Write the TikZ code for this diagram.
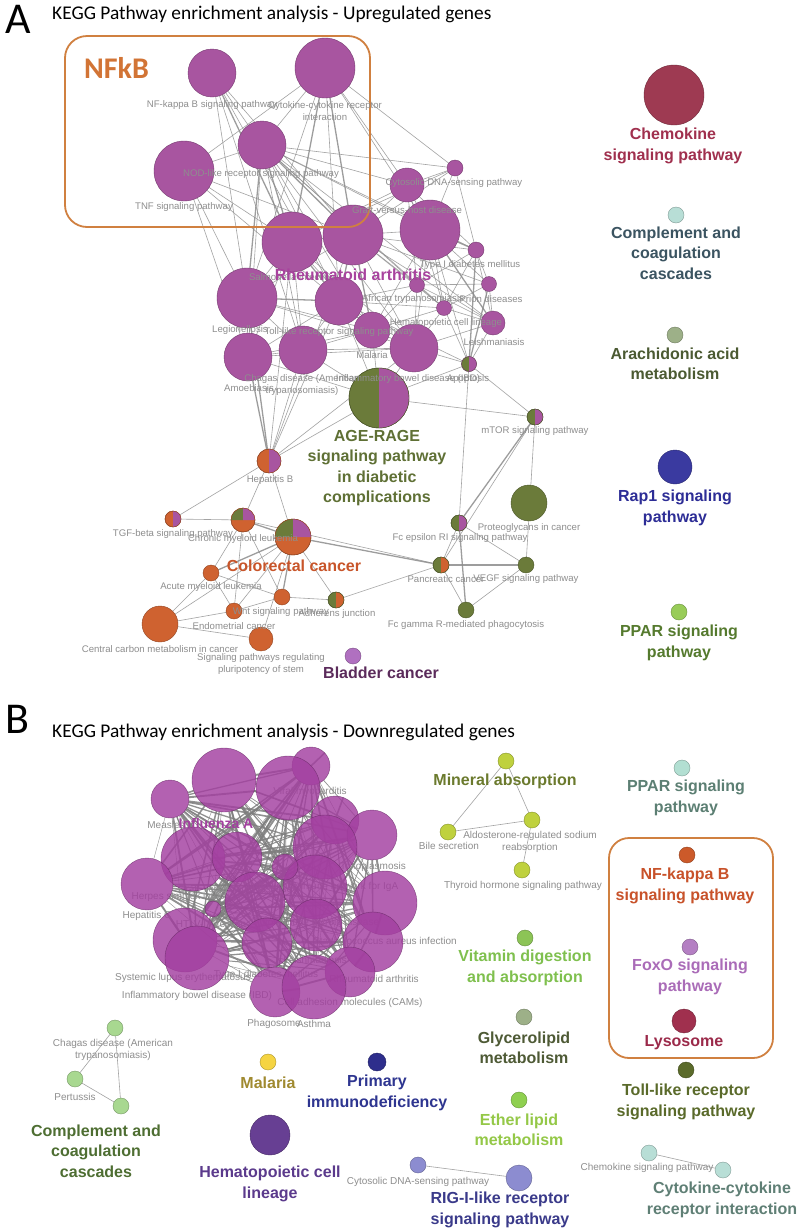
\documentclass[tikz,border=0pt]{standalone}
\usepackage{fontspec}
\setmainfont{Liberation Sans}
\newfontfamily\calfont{Carlito}
\pgfdeclarelayer{bg}
\pgfdeclarelayer{edges}
\pgfdeclarelayer{labels}
\pgfdeclarelayer{toplayer}
\pgfsetlayers{bg,edges,labels,main,toplayer}
\definecolor{apur}{HTML}{A855A0}
\definecolor{agrn}{HTML}{6B7B3A}
\definecolor{aorg}{HTML}{CF6230}
\definecolor{egray}{HTML}{8C8C8C}
\definecolor{lgray}{HTML}{8E8E8E}
\definecolor{boxorg}{HTML}{D08040}
\definecolor{nfkbc}{HTML}{D27435}
\definecolor{rat}{HTML}{A8439E}
\definecolor{aget}{HTML}{5F7035}
\definecolor{crct}{HTML}{C8552A}
\definecolor{bladc}{HTML}{B070C0}
\definecolor{bladt}{HTML}{5B2B5B}
\definecolor{chemoc}{HTML}{9E3A52}
\definecolor{chemot}{HTML}{A0304E}
\definecolor{tealc}{HTML}{B8DED6}
\definecolor{compat}{HTML}{3B5461}
\definecolor{sagec}{HTML}{9DB088}
\definecolor{aracht}{HTML}{4B5A32}
\definecolor{rapc}{HTML}{3A3AA0}
\definecolor{rapt}{HTML}{2D2D96}
\definecolor{pparac}{HTML}{98CC58}
\definecolor{pparat}{HTML}{557A2E}
\definecolor{bpur}{HTML}{A33FA0}
\definecolor{bedgec}{HTML}{7E7E7E}
\definecolor{limec}{HTML}{BFD13E}
\definecolor{minert}{HTML}{6B7A2D}
\definecolor{vitc}{HTML}{8CC456}
\definecolor{vitt}{HTML}{7FC04E}
\definecolor{glyt}{HTML}{4E5A35}
\definecolor{etherc}{HTML}{8FD050}
\definecolor{ethert}{HTML}{94C847}
\definecolor{ppbt}{HTML}{5C7F73}
\definecolor{ppbc}{HTML}{B2DFD2}
\definecolor{nfbc}{HTML}{CC5A2A}
\definecolor{nfbt}{HTML}{C8522A}
\definecolor{foxc}{HTML}{B47FC3}
\definecolor{foxt}{HTML}{AA6CB8}
\definecolor{lysc}{HTML}{A0304E}
\definecolor{lyst}{HTML}{9B2A4A}
\definecolor{tollc}{HTML}{5B6B2B}
\definecolor{tollt}{HTML}{5A6A2A}
\definecolor{cytbt}{HTML}{5F7F75}
\definecolor{rigc}{HTML}{8C8CD0}
\definecolor{rigt}{HTML}{3A3A8A}
\definecolor{hemc}{HTML}{673F93}
\definecolor{hemt}{HTML}{5B3A8C}
\definecolor{malc}{HTML}{F5D442}
\definecolor{malt}{HTML}{A08A30}
\definecolor{primc}{HTML}{2E2E8C}
\definecolor{primt}{HTML}{2E3590}
\definecolor{compbc}{HTML}{A8D890}
\definecolor{compbt}{HTML}{4E6E32}
\newcommand\pnode[5]{\node[pn, minimum size=#4pt, fill=#5, draw=#5!70!black] (#1) at (#2,#3) {};}
\newcommand\bnode[4]{\node[bpn, minimum size=#4pt] (#1) at (#2,#3) {};}
\newcommand\hpie[3]{\fill[#3] (#1.north) arc[start angle=90,end angle=-90,radius=#2pt] -- cycle;}
\newcommand\tpie[2]{\fill[agrn] (#1.center) -- (#1.west) arc[start angle=180,end angle=90,radius=#2pt] -- cycle;
  \fill[apur] (#1.center) -- (#1.north) arc[start angle=90,end angle=0,radius=#2pt] -- cycle;}
\newcommand\ring[3]{\draw[#3!70!black, line width=0.4pt] (#1.center) circle[radius=#2pt];}
\tikzset{
  pn/.style={circle, inner sep=0pt, outer sep=0pt, line width=0.4pt},
  bpn/.style={circle, inner sep=0pt, outer sep=0pt, fill=bpur, fill opacity=0.82, draw=bpur!60!black, draw opacity=0.7, line width=0.4pt},
  gl/.style={font=\fontsize{9.6}{12.5}\selectfont, text=lgray, inner sep=0pt, align=center},
  bgl/.style={font=\fontsize{10}{12.5}\selectfont, text=lgray, inner sep=0pt, align=center},
  bl/.style={font=\bfseries\fontsize{16}{20.5}\selectfont, inner sep=0pt, align=center},
  ed/.style={draw=egray, line width=0.6pt, draw opacity=0.8},
  edk/.style={draw=egray, line width=1.3pt, draw opacity=0.85},
  bedge/.style={draw=bedgec, draw opacity=0.85},
  sedge/.style={draw=egray!80, line width=0.6pt},
}
\begin{document}
\begin{tikzpicture}[x=1pt,y=-1pt]
\useasboundingbox (0,0) rectangle (797,1232);
\begin{pgfonlayer}{bg}
\fill[white] (0,0) rectangle (797,1232);
\end{pgfonlayer}
% ---------- titles ----------
\node[anchor=base west, inner sep=0pt, font=\calfont\fontsize{44}{44}\selectfont] (letA) at (5,33) {A};
\node[anchor=base west, inner sep=0pt, font=\calfont\fontsize{19.4}{22}\selectfont] (titA) at (52,19) {KEGG Pathway enrichment analysis - Upregulated genes};
\node[anchor=base west, inner sep=0pt, font=\calfont\fontsize{44}{44}\selectfont] (letB) at (5,733) {B};
\node[anchor=base west, inner sep=0pt, font=\calfont\fontsize{19.4}{22}\selectfont] (titB) at (52,737) {KEGG Pathway enrichment analysis - Downregulated genes};
% ---------- panel A nodes ----------
\pnode{nfkb}{212}{73}{48}{apur}
\pnode{cyto}{325}{68}{60}{apur}
\pnode{nod}{262}{145}{48}{apur}
\pnode{tnf}{184}{171}{60}{apur}
\pnode{cdna}{455}{168}{16}{apur}
\pnode{gvhd}{407}{185}{34}{apur}
\pnode{bigc}{430}{230}{60}{apur}
\pnode{salm}{292}{242}{60}{apur}
\pnode{ra}{353}{235}{60}{apur}
\pnode{tid}{476}{250}{16}{apur}
\pnode{legio}{247}{298}{60}{apur}
\pnode{toll}{339}{301}{48}{apur}
\pnode{afr}{417}{285}{15}{apur}
\pnode{prion}{489}{284}{15}{apur}
\pnode{hema}{444}{308}{15}{apur}
\pnode{leish}{493}{323}{24}{apur}
\pnode{mal}{372}{330}{36}{apur}
\pnode{ibd}{414}{348}{48}{apur}
\pnode{amoe}{248}{357}{48}{apur}
\pnode{chagas}{303}{350}{48}{apur}
\pnode{apop}{469}{364}{15}{agrn}
\pnode{age}{379}{398}{60}{agrn}
\pnode{mtor}{535}{417}{16}{agrn}
\pnode{hepb}{269}{461}{24}{aorg}
\pnode{tgf}{173}{519}{16}{aorg}
\pnode{cml}{243}{520}{24}{aorg}
\pnode{crc}{293}{537}{36}{aorg}
\pnode{aml}{211}{573}{16}{aorg}
\pnode{wnt}{282}{597}{16}{aorg}
\pnode{endo}{234}{611}{16}{aorg}
\pnode{adh}{336}{600}{16}{agrn}
\pnode{ccm}{160}{624}{36}{aorg}
\pnode{pluri}{261}{639}{24}{aorg}
\pnode{bladder}{353}{656}{16}{bladc}
\pnode{prot}{529}{503}{36}{agrn}
\pnode{fceps}{459}{523}{16}{agrn}
\pnode{panc}{441}{565}{16}{agrn}
\pnode{vegf}{526}{565}{16}{agrn}
\pnode{fcgam}{466}{610}{16}{agrn}
\hpie{apop}{7.5}{apur}\ring{apop}{7.5}{apur}
\hpie{age}{30}{apur}\ring{age}{30}{agrn}
\hpie{mtor}{8}{apur}\ring{mtor}{8}{agrn}
\hpie{hepb}{12}{apur}\ring{hepb}{12}{aorg}
\hpie{tgf}{8}{apur}\ring{tgf}{8}{aorg}
\tpie{cml}{12}\ring{cml}{12}{aorg}
\tpie{crc}{18}\ring{crc}{18}{aorg}
\hpie{adh}{8}{aorg}\ring{adh}{8}{agrn}
\hpie{fceps}{8}{apur}\ring{fceps}{8}{agrn}
\hpie{panc}{8}{aorg}\ring{panc}{8}{agrn}
% right column A
\pnode{chemo}{674}{95}{60}{chemoc}
\pnode{compa}{676}{215}{16}{tealc}
\pnode{arach}{675}{335}{16}{sagec}
\pnode{rap}{675}{467}{34}{rapc}
\pnode{ppara}{679}{612}{16}{pparac}
% ---------- panel A edges ----------
\begin{pgfonlayer}{edges}
\foreach \a/\b in {nfkb/nod,nfkb/legio,nfkb/ra,nfkb/toll,nfkb/chagas,cyto/tnf,cyto/nod,cyto/gvhd,cyto/bigc,cyto/toll,cyto/cdna,cyto/legio,
 nod/tnf,nod/bigc,nod/gvhd,nod/cdna,nod/toll,nod/mal,nod/afr,nod/tid,nod/ibd,nod/amoe,nod/chagas,nod/hema,nod/leish,
 tnf/legio,tnf/salm,tnf/toll,tnf/ra,tnf/amoe,cdna/gvhd,cdna/bigc,cdna/tid,cdna/ra,cdna/salm,
 gvhd/bigc,gvhd/ra,gvhd/tid,gvhd/afr,gvhd/hema,gvhd/salm,bigc/ra,bigc/prion,bigc/afr,bigc/hema,bigc/ibd,bigc/mal,bigc/apop,
 salm/ra,salm/legio,salm/amoe,salm/chagas,salm/mal,salm/ibd,ra/afr,ra/ibd,ra/hema,ra/legio,ra/tid,ra/prion,ra/leish,
 tid/prion,tid/hema,tid/leish,tid/afr,legio/amoe,legio/chagas,legio/mal,legio/ibd,
 toll/chagas,toll/amoe,toll/ibd,toll/afr,toll/hema,toll/apop,toll/age,afr/hema,afr/prion,afr/mal,afr/ibd,afr/leish,
 prion/hema,prion/leish,hema/leish,hema/ibd,hema/apop,hema/mal,leish/apop,leish/ibd,
 mal/ibd,mal/chagas,mal/amoe,mal/age,ibd/chagas,ibd/amoe,ibd/apop,ibd/age,amoe/chagas,amoe/age,chagas/age,chagas/hepb,
 apop/age,apop/mtor,apop/fceps,age/mtor,age/hepb,toll/hepb,salm/hepb,ra/hepb,ibd/hepb,
 hepb/tgf,hepb/cml,hepb/crc,tgf/cml,cml/aml,cml/wnt,cml/endo,cml/panc,crc/endo,crc/adh,crc/ccm,crc/pluri,
 aml/endo,aml/ccm,aml/wnt,wnt/endo,wnt/adh,endo/ccm,ccm/pluri,adh/panc,mtor/panc,mtor/vegf,
 fceps/panc,fceps/vegf,panc/fcgam,vegf/fcgam}
 {\draw[ed] (\a) -- (\b);}
\foreach \a/\b in {nod/salm,nod/legio,nod/ra,cyto/ra,cyto/salm,nfkb/salm,bigc/leish,bigc/tid,ra/toll,salm/toll,toll/mal,ra/mal,
 legio/toll,hepb/legio,hepb/amoe,crc/aml,crc/wnt,cml/crc,mtor/fceps,fceps/fcgam,panc/vegf,crc/panc,tid/apop,prion/apop}
 {\draw[edk] (\a) -- (\b);}
\end{pgfonlayer}
\draw[boxorg, line width=1.8pt, rounded corners=22pt] (65,36) rectangle (370,227);
% ---------- panel A gray labels ----------
\begin{pgfonlayer}{toplayer}
\node[gl] (l1) at (212,105) {NF-kappa B signaling pathway};
\node[gl] (l2) at (325,111) {Cytokine-cytokine receptor\\interaction};
\node[gl] (l3) at (261,174) {NOD-like receptor signaling pathway};
\node[gl] (l4) at (184,207) {TNF signaling pathway};
\node[gl] (l5) at (454,183) {Cytosolic DNA-sensing pathway};
\node[gl] (l6) at (407,210) {Graft-versus-host disease};
\node[gl] (l7) at (470,265) {Type I diabetes mellitus};
\node[gl] (l8) at (292,277) {Salmonella infection};
\node[gl] (l9) at (240,330) {Legionellosis};
\node[gl] (l10) at (339,332) {Toll-like receptor signaling pathway};
\node[gl] (l11) at (413,299) {African trypanosomiasis};
\node[gl] (l12) at (491,299) {Prion diseases};
\node[gl] (l13) at (446,323) {Hematopoietic cell lineage};
\node[gl] (l14) at (494,342) {Leishmaniasis};
\node[gl] (l15) at (372,355) {Malaria};
\node[gl] (l16) at (408,379) {Inflammatory bowel disease (IBD)};
\node[gl] (l17) at (249,388) {Amoebiasis};
\node[gl] (l18) at (302,385) {Chagas disease (American\\trypanosomiasis)};
\node[gl] (l19) at (468,379) {Apoptosis};
\node[gl] (l20) at (535,431) {mTOR signaling pathway};
\node[gl] (l21) at (270,480) {Hepatitis B};
\node[gl] (l22) at (173,534) {TGF-beta signaling pathway};
\node[gl] (l23) at (243,539) {Chronic myeloid leukemia};
\node[gl] (l24) at (211,587) {Acute myeloid leukemia};
\node[gl] (l25) at (281,612) {Wnt signaling pathway};
\node[gl] (l26) at (234,626) {Endometrial cancer};
\node[gl] (l27) at (337,614) {Adherens junction};
\node[gl] (l28) at (160,649) {Central carbon metabolism in cancer};
\node[gl] (l29) at (261,664) {Signaling pathways regulating\\pluripotency of stem};
\node[gl] (l30) at (529,528) {Proteoglycans in cancer};
\node[gl] (l31) at (460,538) {Fc epsilon RI signaling pathway};
\node[gl] (l32) at (446,579) {Pancreatic cancer};
\node[gl] (l33) at (526,579) {VEGF signaling pathway};
\node[gl] (l34) at (466,625) {Fc gamma R-mediated phagocytosis};
% bold labels A
\node[anchor=base west, inner sep=0pt, font=\calfont\bfseries\fontsize{30}{30}\selectfont, text=nfkbc] (nfkbt) at (84,78) {NFkB};
\node[bl, text=rat] (rat) at (353,275) {Rheumatoid arthritis};
\node[bl, text=aget] (aget) at (377,468) {AGE-RAGE\\signaling pathway\\in diabetic\\complications};
\node[bl, text=crct] (crct) at (294,566) {Colorectal cancer};
\node[bl, text=bladt] (bladt) at (381,673) {Bladder cancer};
\node[bl, text=chemot] (chemot) at (673,146) {Chemokine\\signaling pathway};
\node[bl, text=compat] (compat) at (676,253) {Complement and\\coagulation\\cascades};
\node[bl, text=aracht] (aracht) at (675,364) {Arachidonic acid\\metabolism};
\node[bl, text=rapt] (rapt) at (675,508) {Rap1 signaling\\pathway};
\node[bl, text=pparat] (pparat) at (679,643) {PPAR signaling\\pathway};
\end{pgfonlayer}
% ---------- panel B cluster ----------
\bnode{b1}{311}{766}{38}
\bnode{b2}{224}{780}{64}
\bnode{b3}{288}{788}{64}
\bnode{b4}{170}{799}{38}
\bnode{b5}{335}{820}{48}
\bnode{b6}{372}{835}{50}
\bnode{b7}{325}{847}{64}
\bnode{b8}{193}{859}{64}
\bnode{b9}{237}{857}{50}
\bnode{b10}{147}{884}{52}
\bnode{b11}{315}{887}{64}
\bnode{b12}{255}{902}{60}
\bnode{b13}{385}{903}{64}
\bnode{b14}{213}{909}{16}
\bnode{b15}{285}{867}{26}
\bnode{b16}{185}{940}{64}
\bnode{b17}{197}{958}{64}
\bnode{b18}{267}{943}{50}
\bnode{b19}{316}{925}{52}
\bnode{b20}{373}{942}{60}
\bnode{b21}{350}{972}{50}
\bnode{b22}{275}{992}{50}
\bnode{b23}{314}{987}{64}
\begin{pgfonlayer}{edges}
\foreach \i in {1,...,23}{\foreach \j in {1,...,23}{\ifnum\i<\j\relax
  \pgfmathsetmacro\w{0.4+0.3*mod(\i*7+\j*11,6)}
  \draw[bedge, line width=\w pt] (b\i) -- (b\j);
\fi}}
\end{pgfonlayer}
\begin{pgfonlayer}{labels}
\node[bgl] (m1) at (310,792) {Viral myocarditis};
\node[bgl] (m2) at (166,825) {Measles};
\node[bgl] (m3) at (147,916) {Hepatitis C};
\node[bgl] (m4) at (373,867) {Toxoplasmosis};
\node[bgl] (m5) at (324,887) {Intestinal immune network for IgA};
\node[bgl] (m6) at (186,897) {Herpes simplex infection};
\node[bgl] (m7) at (235,889) {Graft-versus-host disease};
\node[bgl] (m8) at (211,924) {HTLV-I infection};
\node[bgl] (m9) at (316,923) {Autoimmune thyroid disease};
\node[bgl] (m10) at (385,942) {Staphylococcus aureus infection};
\node[bgl] (m11) at (315,960) {Leishmaniasis};
\node[bgl] (m12) at (266,975) {Type I diabetes mellitus};
\node[bgl] (m13) at (183,978) {Systemic lupus erythematosus};
\node[bgl] (m14) at (374,979) {Rheumatoid arthritis};
\node[bgl] (m15) at (197,996) {Inflammatory bowel disease (IBD)};
\node[bgl] (m16) at (350,1003) {Cell adhesion molecules (CAMs)};
\node[bgl] (m17) at (274,1024) {Phagosome};
\node[bgl] (m18) at (314,1024) {Asthma};
\end{pgfonlayer}
\node[font=\bfseries\fontsize{14}{16}\selectfont, text=bpur, inner sep=0pt] (infl) at (216,823) {Influenza A};
% ---------- panel B other groups ----------
\pnode{mtop}{506}{761}{16}{limec}
\pnode{aldo}{532}{820}{16}{limec}
\pnode{bile}{448}{832}{16}{limec}
\pnode{thyr}{522}{870}{16}{limec}
\pnode{vit}{525}{938}{16}{vitc}
\pnode{glyc}{524}{1017}{16}{sagec}
\pnode{ether}{519}{1100}{16}{etherc}
\pnode{ppb}{682}{768}{16}{ppbc}
\pnode{nfb}{687}{855}{16}{nfbc}
\pnode{foxo}{690}{947}{16}{foxc}
\pnode{lyso}{684}{1021}{24}{lysc}
\pnode{tollb}{686}{1070}{16}{tollc}
\pnode{chemb}{649}{1153}{16}{tealc}
\pnode{cytb}{723}{1170}{16}{tealc}
\pnode{cdnab}{418}{1165}{16}{rigc}
\pnode{rig}{519}{1178}{26}{rigc}
\pnode{hemb}{270}{1135}{40}{hemc}
\pnode{malb}{268}{1062}{16}{malc}
\pnode{prim}{377}{1062}{18}{primc}
\pnode{chagb}{115}{1028}{16}{compbc}
\pnode{pert}{75}{1079}{16}{compbc}
\pnode{compb}{121}{1106}{16}{compbc}
\begin{pgfonlayer}{edges}
\foreach \a/\b in {mtop/bile,mtop/aldo,bile/aldo,aldo/thyr,chagb/pert,chagb/compb,pert/compb,cdnab/rig,chemb/cytb}
 {\draw[sedge] (\a) -- (\b);}
\end{pgfonlayer}
\draw[boxorg, line width=1.8pt, rounded corners=20pt] (609,838) rectangle (773,1058);
\begin{pgfonlayer}{toplayer}
\node[bgl] (n1) at (449,846) {Bile secretion};
\node[bgl] (n2) at (530,842) {Aldosterone-regulated sodium\\reabsorption};
\node[bgl] (n3) at (523,886) {Thyroid hormone signaling pathway};
\node[bgl] (n4) at (113,1050) {Chagas disease (American\\trypanosomiasis)};
\node[bgl] (n5) at (75,1097) {Pertussis};
\node[bgl] (n6) at (418,1182) {Cytosolic DNA-sensing pathway};
\node[bgl] (n7) at (647,1168) {Chemokine signaling pathway};
\node[bl, text=minert] (t1) at (505,781) {Mineral absorption};
\node[bl, text=ppbt] (t2) at (686,798) {PPAR signaling\\pathway};
\node[bl, text=nfbt] (t3) at (685,886) {NF-kappa B\\signaling pathway};
\node[bl, text=foxt] (t4) at (690,977) {FoxO signaling\\pathway};
\node[bl, text=lyst] (t5) at (684,1043) {Lysosome};
\node[bl, text=tollt] (t6) at (686,1102) {Toll-like receptor\\signaling pathway};
\node[bl, text=vitt] (t7) at (525,968) {Vitamin digestion\\and absorption};
\node[bl, text=glyt] (t8) at (524,1048) {Glycerolipid\\metabolism};
\node[bl, text=ethert] (t9) at (519,1130) {Ether lipid\\metabolism};
\node[bl, text=cytbt] (t10) at (722,1200) {Cytokine-cytokine\\receptor interaction};
\node[bl, text=rigt] (t11) at (500,1210) {RIG-I-like receptor\\signaling pathway};
\node[bl, text=hemt] (t12) at (270,1184) {Hematopoietic cell\\lineage};
\node[bl, text=malt] (t13) at (268,1083) {Malaria};
\node[bl, text=primt] (t14) at (377,1093) {Primary\\immunodeficiency};
\node[bl, text=compbt] (t15) at (96,1151) {Complement and\\coagulation\\cascades};
\end{pgfonlayer}
\end{tikzpicture}
\end{document}
